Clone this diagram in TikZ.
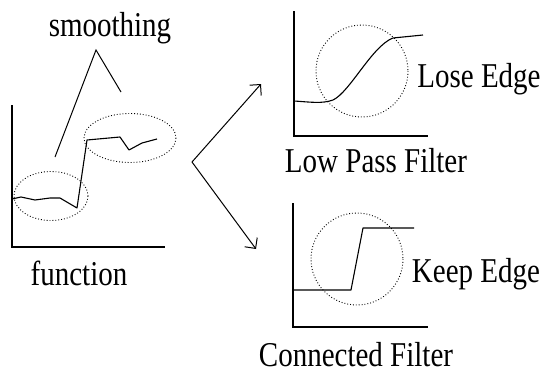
\documentclass[tikz,border=0pt]{standalone}
\usepackage{fontspec}
\setmainfont{Liberation Serif}
\usetikzlibrary{positioning, calc}
\usetikzlibrary{arrows.meta}
\newcommand{\tallword}[1]{\scalebox{1}[1.2]{#1}}
\tikzstyle{axisline}=[line width=1.4pt,draw=black]
\tikzstyle{curveline}=[line width=1.1pt,draw=black,line join=round]
\tikzstyle{ringline}=[dotted,line width=0.9pt,draw=black]
\tikzstyle{textbox}=[rectangle,inner sep=0pt,anchor=base,draw=black!0,
font=\fontsize{29}{30}\selectfont]
\tikzstyle{edgepath} = [-{Straight Barb[angle=90:11pt]},line width=1pt]
\begin{document}
\begin{tikzpicture}[x=1pt,y=-1pt]
    \useasboundingbox (0,0) rectangle (542,372);
    % input function
    \node[textbox] (smooth) at (110,36) {\tallword{smoothing}};
    \node[textbox] (func) at (79,285) {\tallword{function}};
    \draw[axisline] (12,105) -- (12,247) -- (165,247);
    \draw[curveline] (12,199) -- (21,197) -- (35,200) -- (50,198) -- (60,198)
        -- (77,208) -- (87,140) -- (120,137) -- (129,150) -- (142,143) -- (157,139);
    \draw[ringline] (51,196) ellipse [x radius=37, y radius=24.5];
    \draw[ringline] (130,138) ellipse [x radius=46, y radius=24.5];
    \coordinate (apex) at (96,50);
    \coordinate (legl) at (55,157);
    \coordinate (legr) at (121,92);
    \draw[line width=1pt] (legl) -- (apex) -- (legr);

    % fork
    \coordinate (fork) at (192,162);
    \coordinate (uptip) at (261,84);
    \coordinate (downtip) at (256,249);
    \path[edgepath]
        (fork) edge (uptip)
        (fork) edge (downtip);

    % low pass filter
    \draw[axisline] (294,11) -- (294,136) -- (428,136);
    \draw[curveline] (294,101) .. controls (310,102) and (322,104) .. (333,100)
        .. controls (350,92) and (372,46) .. (393,38) -- (423,35);
    \draw[ringline] (362,71) circle [radius=46];
    \node[textbox] (lose) at (479,87) {\tallword{Lose Edge}};
    \node[textbox] (lpf) at (376,172) {\tallword{Low Pass Filter}};

    % connected filter
    \draw[axisline] (293,203) -- (293,327) -- (428,327);
    \draw[curveline] (293,290) -- (351,290) -- (363,228) -- (414,228);
    \draw[ringline] (357,259) circle [radius=46];
    \node[textbox] (keep) at (476,282) {\tallword{Keep Edge}};
    \node[textbox] (cf) at (356,366) {\tallword{Connected Filter}};
\end{tikzpicture}
\end{document}
